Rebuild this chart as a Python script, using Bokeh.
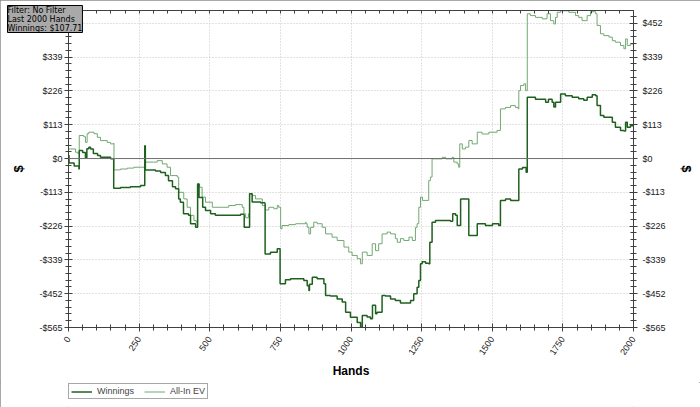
import math
from bokeh.plotting import figure
from bokeh.layouts import column
from bokeh.models import (ColumnDataSource, FixedTicker, LinearAxis, Span,
                          Legend, LegendItem, Range1d)
from bokeh.embed import file_html
from bokeh.resources import INLINE

# ---------------- data ----------------
win_hands = [0, 2, 20, 37, 38, 50, 60, 65, 72, 78, 88, 103, 113, 149, 159, 160, 184, 219, 255, 269,
             270, 272, 290, 308, 326, 343, 354, 368, 379, 390, 396, 407, 425, 432, 450, 456, 457, 462,
             475, 485, 503, 520, 573, 609, 621, 622, 640, 641, 650, 680, 695, 696, 715, 733, 739, 748,
             749, 768, 786, 821, 833, 845, 851, 853, 863, 880, 904, 910, 927, 951, 969, 981, 998, 1022,
             1034, 1040, 1057, 1069, 1076, 1087, 1092, 1104, 1110, 1122, 1140, 1157, 1175, 1193, 1211,
             1222, 1234, 1240, 1246, 1252, 1264, 1275, 1279, 1287, 1299, 1335, 1352, 1360, 1370, 1376,
             1386, 1388, 1411, 1417, 1427, 1447, 1476, 1501, 1523, 1529, 1547, 1565, 1586, 1594, 1607,
             1620, 1624, 1635, 1653, 1677, 1689, 1699, 1712, 1718, 1724, 1735, 1742, 1759, 1783, 1806,
             1824, 1836, 1854, 1866, 1871, 1883, 1895, 1925, 1936, 1954, 1966, 1972, 1978, 1989, 2000]
win_values = [10, -15, -25, -35, 27, 20, 3, 33, 38, 32, 17, 10, 4, -1, -2, -99, -97, -94, -90, -90,
              43, -38, -38, -42, -47, -57, -74, -94, -101, -135, -146, -185, -190, -218, -230, -230, -85, -130,
              -163, -174, -185, -190, -190, -186, -190, -230, -230, -118, -145, -148, -150, -319, -313, -313, -302, -302,
              -419, -405, -402, -402, -408, -425, -441, -420, -397, -402, -419, -458, -460, -470, -480, -514, -531, -548,
              -564, -525, -530, -536, -491, -519, -514, -514, -458, -460, -470, -475, -483, -483, -475,
              -452, -430, -408, -352, -345, -350, -352, -280, -213, -207, -207, -210, -185, -190, -224,
              -224, -135, -135, -257, -257, -218, -224, -218, -224, -140, -135, -140, -140, -35, -30,
              -46, 205, 205, 198, 198, 188, 198, 188, 172, 188, 188, 216, 210, 205, 200,
              195, 205, 213, 210, 177, 144, 138, 121, 105, 94, 92, 121, 105, 110, 107.71]

ev_hands = [0, 25, 33, 38, 54, 60, 66, 72, 90, 102, 113, 137, 149, 160, 161, 184, 208, 231, 269, 270,
            302, 314, 332, 349, 361, 385, 390, 408, 420, 432, 444, 452, 457, 464, 473, 485, 509, 544,
            567, 591, 615, 621, 627, 637, 641, 650, 662, 686, 697, 709, 727, 739, 744, 751, 756, 780,
            804, 839, 841, 845, 851, 857, 868, 880, 898, 910, 933, 951, 975, 992, 1004, 1022, 1034,
            1040, 1057, 1075, 1087, 1098, 1110, 1128, 1140, 1157, 1164, 1175, 1187, 1205, 1217, 1228,
            1234, 1240, 1246, 1253, 1275, 1281, 1287, 1323, 1335, 1358, 1364, 1376, 1381, 1385, 1394,
            1405, 1417, 1429, 1447, 1464, 1488, 1517, 1529, 1547, 1565, 1582, 1592, 1594, 1600, 1612,
            1618, 1624, 1635, 1653, 1677, 1694, 1706, 1718, 1724, 1730, 1742, 1771, 1795, 1806, 1818,
            1836, 1848, 1866, 1871, 1883, 1895, 1913, 1925, 1936, 1954, 1966, 1972, 1978, 1989, 2000]
ev_values = [32, 21, 17, 77, 73, 54, 83, 88, 83, 71, 60, 54, 49, 51, -38, -35, -32, -29, -29, -12,
             -12, -7, -18, -29, -57, -62, -113, -135, -163, -190, -207, -213, -85, -96, -129, -146, -163, -163,
             -157, -154, -163, -185, -198, -185, -118, -124, -135, -157, -172, -163, -168, -157, -163, -235, -224, -221,
             -218, -213, -218, -230, -252, -230, -213, -218, -230, -252, -263, -274, -296, -313, -324, -335, -352,
             -313, -324, -285, -308, -285, -252, -246, -252, -268, -280, -268, -274, -263, -274, -230,
             -218, -163, -129, -140, -74, -62, -1, 4, -1, 4, -12, -18, -29, 49, 32,
             38, 60, 49, 88, 82, 88, 94, 166, 171, 177, 171, 166, 227, 244, 250,
             227, 484, 478, 472, 467, 484, 461, 450, 472, 489, 494, 489, 478, 472, 461,
             478, 491, 484, 445, 417, 411, 406, 394, 389, 378, 367, 400, 378, 383, 385]

x_ticks = [0, 250, 500, 750, 1000, 1250, 1500, 1750, 2000]
y_ticks = [-565, -452, -339, -226, -113, 0, 113, 226, 339, 452]
y_tick_labels = ["-$565", "-$452", "-$339", "-$226", "-$113", "$0", "$113", "$226", "$339", "$452"]
info_lines = ["Filter: No Filter", "Last  2000 Hands", "Winnings: $107.71"]
series_names = ["Winnings", "All-In EV"]
win_color = "#1f601f"
ev_color = "#72a872"

# ---------------- main figure ----------------
p = figure(width=700, height=382, output_backend="svg", toolbar_location=None,
           x_range=Range1d(0, 2000), y_range=Range1d(-565, 495),
           min_border_left=68, min_border_right=67, min_border_top=10, min_border_bottom=55)
p.background_fill_color = "white"
p.border_fill_color = "white"
p.outline_line_color = "#505050"

x_minor = list(range(0, 2001, 50))
y_minor = [-565 + 22.6 * k for k in range(47)]
xticker = FixedTicker(ticks=x_ticks, minor_ticks=x_minor)
yticker = FixedTicker(ticks=y_ticks, minor_ticks=y_minor)

axis_color = "#404040"
label_font = "Liberation Sans"


def style_axis(ax):
    ax.axis_line_color = axis_color
    ax.major_tick_line_color = axis_color
    ax.minor_tick_line_color = axis_color
    ax.major_tick_in = 4
    ax.major_tick_out = 4
    ax.minor_tick_in = 3
    ax.minor_tick_out = 3
    ax.major_label_text_font = label_font
    ax.major_label_text_font_size = "9px"
    ax.major_label_text_color = "#202020"
    ax.axis_label_text_font = label_font
    ax.axis_label_text_font_style = "bold"
    ax.axis_label_text_color = "black"


xa = p.xaxis[0]
xa.ticker = xticker
style_axis(xa)
xa.major_label_orientation = math.radians(56)
xa.major_label_standoff = 6
xa.axis_label = "Hands"
xa.axis_label_text_font_size = "12px"
xa.axis_label_standoff = 4

ya = p.yaxis[0]
ya.ticker = yticker
style_axis(ya)
ya.major_label_overrides = {t: s for t, s in zip(y_ticks, y_tick_labels)}
ya.major_label_standoff = 2
ya.axis_label = "$"
ya.axis_label_text_font_size = "13px"
ya.axis_label_standoff = 10

yr = LinearAxis(ticker=yticker)
style_axis(yr)
yr.major_label_overrides = {t: s for t, s in zip(y_ticks, y_tick_labels)}
yr.major_label_standoff = 5
yr.axis_label = "$"
yr.axis_label_text_font_size = "13px"
yr.axis_label_standoff = 10
p.add_layout(yr, "right")

# top edge: small inward ticks only, no labels
xt = LinearAxis(ticker=FixedTicker(ticks=[], minor_ticks=x_minor))
xt.axis_line_color = axis_color
xt.minor_tick_line_color = axis_color
xt.minor_tick_in = 3
xt.minor_tick_out = 0
xt.major_tick_in = 0
xt.major_tick_out = 0
xt.major_label_standoff = 0
p.add_layout(xt, "above")

for g in (p.xgrid[0], p.ygrid[0]):
    g.grid_line_color = "#c4c4c4"
    g.grid_line_dash = "1 2"
    g.grid_line_width = 1
p.xgrid[0].ticker = xticker
p.ygrid[0].ticker = yticker

p.add_layout(Span(location=0, dimension="width", line_color="#707070", line_width=1))

src_w = ColumnDataSource(dict(x=win_hands, y=win_values))
src_e = ColumnDataSource(dict(x=ev_hands, y=ev_values))
p.step("x", "y", source=src_e, mode="after", line_color=ev_color, line_width=1)
p.step("x", "y", source=src_w, mode="after", line_color=win_color, line_width=1.5)

# info box (top-left) drawn as the plot title
t = p.title
t.text = "\n".join(info_lines)
t.text_font = "DejaVu Sans"
t.text_font_size = "8px"
t.text_font_style = "normal"
t.text_color = "black"
t.align = "left"
t.vertical_align = "bottom"
t.offset = -61
t.standoff = -44
t.background_fill_color = "#a9a9a9"
t.border_line_color = "black"
t.border_line_width = 1

# ---------------- legend strip ----------------
lf = figure(width=700, height=25, output_backend="svg", toolbar_location=None,
            x_axis_type=None, y_axis_type=None, x_range=Range1d(-10, -5), y_range=Range1d(0, 1),
            min_border=0)
lf.outline_line_color = None
lf.grid.visible = False
lr_w = lf.line(x=win_hands[:1], y=win_values[:1], line_color=win_color, line_width=1.5)
lr_e = lf.line(x=ev_hands[:1], y=ev_values[:1], line_color=ev_color, line_width=1)
legend = Legend(items=[LegendItem(label=series_names[0], renderers=[lr_w]),
                       LegendItem(label=series_names[1], renderers=[lr_e])],
                orientation="horizontal", location=(0, 8))
legend.label_text_font = label_font
legend.label_text_font_size = "9px"
legend.label_height = 9
legend.glyph_height = 9
legend.glyph_width = 21
legend.label_standoff = 5
legend.spacing = 10
legend.padding = 2
legend.margin = 0
legend.border_line_color = "#505050"
legend.border_line_width = 1
legend.background_fill_color = "white"
lf.add_layout(legend)

layout = column(p, lf, spacing=0)
layout.styles = {"outline": "1px solid #8c8c8c", "outline-offset": "-1px"}
open("out.html", "w").write(file_html(layout, INLINE))
